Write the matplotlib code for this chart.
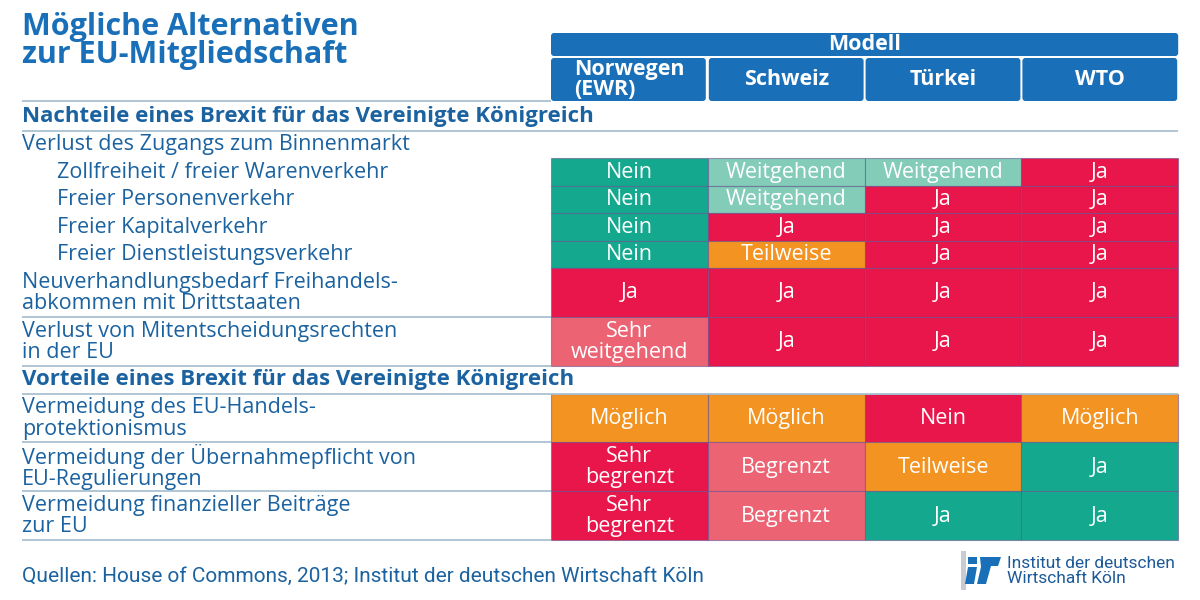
import matplotlib.pyplot as plt
from matplotlib.patches import Rectangle, FancyBboxPatch, Polygon

plt.rcParams['font.family'] = ['Open Sans', 'DejaVu Sans']

# --- Daten ---
titel = "Mögliche Alternativen\nzur EU-Mitgliedschaft"
kopf = "Modell"
modelle = ["Norwegen\n(EWR)", "Schweiz", "Türkei", "WTO"]

abschnitt_nachteile = "Nachteile eines Brexit für das Vereinigte Königreich"
gruppe_binnenmarkt = "Verlust des Zugangs zum Binnenmarkt"
nachteile_labels = ["Zollfreiheit / freier Warenverkehr",
                    "Freier Personenverkehr",
                    "Freier Kapitalverkehr",
                    "Freier Dienstleistungsverkehr",
                    "Neuverhandlungsbedarf Freihandels-\nabkommen mit Drittstaaten",
                    "Verlust von Mitentscheidungsrechten\nin der EU"]
nachteile_eingerueckt = [True, True, True, True, False, False]
nachteile_werte = [["Nein", "Weitgehend", "Weitgehend", "Ja"],
                   ["Nein", "Weitgehend", "Ja", "Ja"],
                   ["Nein", "Ja", "Ja", "Ja"],
                   ["Nein", "Teilweise", "Ja", "Ja"],
                   ["Ja", "Ja", "Ja", "Ja"],
                   ["Sehr\nweitgehend", "Ja", "Ja", "Ja"]]
# 0 gruen, 1 hellgruen, 2 orange, 3 hellrot, 4 rot
nachteile_stufe = [[0, 1, 1, 4],
                   [0, 1, 4, 4],
                   [0, 4, 4, 4],
                   [0, 2, 4, 4],
                   [4, 4, 4, 4],
                   [3, 4, 4, 4]]

abschnitt_vorteile = "Vorteile eines Brexit für das Vereinigte Königreich"
vorteile_labels = ["Vermeidung des EU-Handels-\nprotektionismus",
                   "Vermeidung der Übernahmepflicht von\nEU-Regulierungen",
                   "Vermeidung finanzieller Beiträge\nzur EU"]
vorteile_werte = [["Möglich", "Möglich", "Nein", "Möglich"],
                  ["Sehr\nbegrenzt", "Begrenzt", "Teilweise", "Ja"],
                  ["Sehr\nbegrenzt", "Begrenzt", "Ja", "Ja"]]
vorteile_stufe = [[2, 2, 4, 2],
                  [4, 3, 2, 0],
                  [4, 3, 0, 0]]

quelle = "Quellen: House of Commons, 2013; Institut der deutschen Wirtschaft Köln"
logo_text = "Institut der deutschen\nWirtschaft Köln"

# --- Stil ---
farben = ['#14a98f', '#82ccb8', '#f39322', '#ec6473', '#e8164a']
blau = '#1a70b8'
textblau = '#1b62a0'
linie = '#a9c2d2'
rand = (0.38, 0.30, 0.55, 0.55)

X_L = 22
X_IN = 57
X_TAB = 551
COL_W = 156.8
X_END = X_TAB + 4 * COL_W
H1 = 27.5
H2 = 48.8
FS = 15.5
LS = 1.0

fig = plt.figure(figsize=(12, 6), dpi=100)
ax = fig.add_axes([0, 0, 1, 1])
ax.set_xlim(0, 1200)
ax.set_ylim(600, 0)
ax.axis('off')

# Titel
ax.text(X_L, 41, titel, fontsize=22, fontweight='bold', color=blau,
        va='center', ha='left', linespacing=0.92)

# Kopf
ax.add_patch(FancyBboxPatch((X_TAB, 33), 4 * COL_W, 23,
                            boxstyle="round,pad=0,rounding_size=3",
                            fc=blau, ec='none'))
ax.text(X_TAB + 2 * COL_W, 44.5, kopf, fontsize=FS, fontweight='bold',
        color='white', ha='center', va='center')
for j, m in enumerate(modelle):
    x0 = X_TAB + j * COL_W
    ax.add_patch(FancyBboxPatch((x0 + (1 if j else 0), 58), COL_W - 2, 43,
                                boxstyle="round,pad=0,rounding_size=3",
                                fc=blau, ec='none'))
    ax.text(x0 + COL_W / 2, 79.5, m, fontsize=FS, fontweight='bold',
            color='white', ha='center', va='center', multialignment='left',
            linespacing=0.88)


def hline(y, full=False):
    ax.plot([X_L, X_END if full else X_TAB], [y, y], color=linie, lw=1.3,
            solid_capstyle='butt')


def zeilen(y, labels, eingerueckt, werte, stufen):
    for lab, ein, w_row, s_row in zip(labels, eingerueckt, werte, stufen):
        h = H2 if '\n' in lab else H1
        ym = y + h / 2
        ax.text(X_IN if ein else X_L, ym + 0.5, lab, fontsize=FS,
                color=textblau, ha='left', va='center', linespacing=LS)
        for j, (w, s) in enumerate(zip(w_row, s_row)):
            ax.add_patch(Rectangle((X_TAB + j * COL_W, y), COL_W, h,
                                   fc=farben[s], ec=rand, lw=0.8))
            ax.text(X_TAB + j * COL_W + COL_W / 2, ym + 0.5, w, fontsize=FS,
                    color='white', ha='center', va='center', linespacing=LS)
        y += h
        if not ein:
            hline(y)
    return y


y = 101
hline(y)
ax.text(X_L, y + 15.5, abschnitt_nachteile, fontsize=16, fontweight='bold',
        color=textblau, ha='left', va='center')
y += 30
hline(y, full=True)
ax.text(X_L, y + 13.5, gruppe_binnenmarkt, fontsize=FS, color=textblau,
        ha='left', va='center')
y += 27
y = zeilen(y, nachteile_labels, nachteile_eingerueckt, nachteile_werte,
           nachteile_stufe)
ax.text(X_L, y + 14, abschnitt_vorteile, fontsize=16, fontweight='bold',
        color=textblau, ha='left', va='center')
y += 28
hline(y, full=True)
y = zeilen(y, vorteile_labels, [False] * len(vorteile_labels), vorteile_werte,
           vorteile_stufe)

# Quelle
ax.text(X_L, 576, quelle, fontsize=15, color=textblau, ha='left',
        va='center', family=['Liberation Sans Narrow', 'Roboto', 'DejaVu Sans'])

# Logo
ax.add_patch(Rectangle((961, 551), 5, 39, fc='#c8ccd2', ec='none'))
ax.add_patch(Rectangle((968, 557), 9, 7, fc=blau, ec='none'))
ax.add_patch(Polygon([(968, 567), (977, 567), (974, 584), (965, 584)],
                     fc=blau, ec='none'))
ax.add_patch(Polygon([(980, 557), (1001, 557), (998, 566), (991, 566),
                      (986, 584), (977, 584), (981, 567)],
                     fc=blau, ec='none'))
ax.text(1007, 571, logo_text, fontsize=12.5, color='#1c5a98', ha='left',
        va='center', linespacing=0.92,
        family=['Liberation Sans Narrow', 'Roboto', 'DejaVu Sans'])

fig.savefig('out.png', dpi=100, facecolor='white')
